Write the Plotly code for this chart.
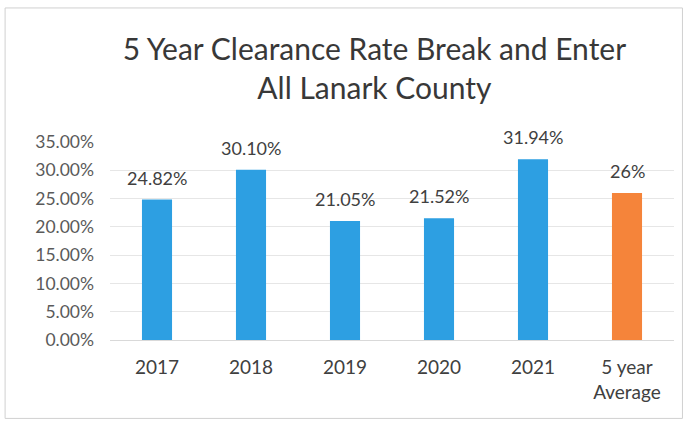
import plotly.graph_objects as go

# Clearance rates (%) for break and enter, Lanark County
categories = ["2017", "2018", "2019", "2020", "2021", "5 year<br>Average"]
rates = [24.82, 30.10, 21.05, 21.52, 31.94, 26]
labels = ["24.82%", "30.10%", "21.05%", "21.52%", "31.94%", "26%"]
bar_colors = ["#2d9fe2", "#2d9fe2", "#2d9fe2", "#2d9fe2", "#2d9fe2", "#f5843a"]
y_ticks = [0, 5, 10, 15, 20, 25, 30, 35]
y_tick_text = ["0.00%", "5.00%", "10.00%", "15.00%", "20.00%", "25.00%", "30.00%", "35.00%"]

FONT = "Lato, 'Open Sans', sans-serif"

fig = go.Figure(
    go.Bar(
        x=categories,
        y=rates,
        marker=dict(color=bar_colors, line=dict(width=0)),
        width=0.32,
    )
)

# Value labels above each bar; on a category axis, numeric x is the
# category index (year-like strings would otherwise be read as numbers)
for idx, (val, lab) in enumerate(zip(rates, labels)):
    fig.add_annotation(
        x=idx,
        y=val,
        xref="x",
        yref="y",
        text=lab,
        showarrow=False,
        xanchor="center",
        yanchor="middle",
        yshift=22,
        font=dict(family=FONT, size=18, color="#404040"),
    )

fig.update_layout(
    width=687,
    height=423,
    margin=dict(l=110, r=13, t=142, b=83),
    paper_bgcolor="white",
    plot_bgcolor="white",
    showlegend=False,
    title=dict(
        text="5 Year Clearance Rate Break and Enter<br>All Lanark County",
        x=0.545,
        xanchor="center",
        y=0.857,
        yanchor="middle",
        font=dict(family=FONT, size=30, color="#383838"),
    ),
    font=dict(family=FONT),
    xaxis=dict(
        type="category",
        range=[-0.5, len(categories) - 0.5],
        showgrid=False,
        showline=True,
        linecolor="#d9d9d9",
        ticks="outside",
        ticklen=10,
        tickcolor="rgba(0,0,0,0)",
        tickfont=dict(family=FONT, size=19, color="#404040"),
    ),
    yaxis=dict(
        range=[0, 35],
        tickvals=y_ticks,
        ticktext=y_tick_text,
        showgrid=True,
        gridcolor="#e6e6e6",
        gridwidth=1,
        zeroline=False,
        showline=False,
        ticks="",
        ticklabelstandoff=15,
        tickfont=dict(family=FONT, size=17.5, color="#5a5a5a"),
    ),
)

# Outer chart border
fig.add_shape(
    type="rect",
    xref="paper",
    yref="paper",
    x0=-0.186,
    x1=1.015,
    y0=-0.396,
    y1=1.677,
    line=dict(color="#d0d0d0", width=1),
    fillcolor="rgba(0,0,0,0)",
    layer="below",
)

fig.write_html("out.html")
